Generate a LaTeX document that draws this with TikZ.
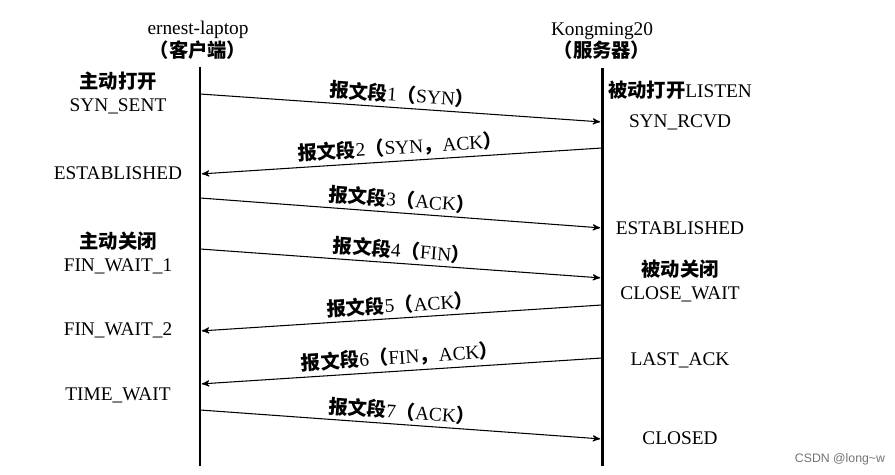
\documentclass[tikz,border=0pt]{standalone}
\usepackage{fontspec}
\setmainfont{Liberation Serif}
\setsansfont{Liberation Sans}
\newfontfamily\cjk{Noto Sans CJK SC}
\usetikzlibrary{arrows}

\newcommand{\zh}[1]{{\cjk\bfseries #1}}
\newcommand{\seg}[2]{\zh{报文段}#1\zh{（}#2\zh{）}}

\begin{document}
\begin{tikzpicture}[x=0.02cm,y=-0.02cm,>=stealth',
		host/.style={font=\fontsize{11}{11.6}\selectfont,align=center,inner sep=0pt},
		state/.style={font=\fontsize{11}{13}\selectfont,align=center,inner sep=0pt},
		seg/.style={font=\fontsize{11}{12}\selectfont,sloped,above=1pt,inner sep=1pt},
		msg/.style={->,line width=0.6pt,shorten >=1pt},
		life/.style={line width=1.7pt}]

	\useasboundingbox (0,0) rectangle (895,475);

	% hosts
	\node[host] (C) at (198,40) {ernest-laptop\\\zh{（客户端）}};
	\node[host] (S) at (602,41) {Kongming20\\\zh{（服务器）}};

	% lifelines
	\coordinate (Ctop) at (200,67);  \coordinate (Cbot) at (200,466);
	\coordinate (Stop) at (602,68);  \coordinate (Sbot) at (602,466);
	\draw[life] (Ctop) -- (Cbot);
	\draw[life] (Stop) -- (Sbot);

	% message ends
	\coordinate (C1) at (200,94);   \coordinate (S1) at (602,122);
	\coordinate (S2) at (602,148);  \coordinate (C2) at (200,174);
	\coordinate (C3) at (200,198);  \coordinate (S3) at (602,228);
	\coordinate (C4) at (200,249);  \coordinate (S4) at (602,278);
	\coordinate (S5) at (602,305);  \coordinate (C5) at (200,331);
	\coordinate (S6) at (602,358);  \coordinate (C6) at (200,384);
	\coordinate (C7) at (200,410);  \coordinate (S7) at (602,439);

	\path[msg]
		(C1) edge node[seg] {\seg{1}{SYN}} (S1)
		(S2) edge node[seg] {\seg{2}{SYN\zh{，}ACK}} (C2)
		(C3) edge node[seg] {\seg{3}{ACK}} (S3)
		(C4) edge node[seg] {\seg{4}{FIN}} (S4)
		(S5) edge node[seg] {\seg{5}{ACK}} (C5)
		(S6) edge node[seg] {\seg{6}{FIN\zh{，}ACK}} (C6)
		(C7) edge node[seg] {\seg{7}{ACK}} (S7);

	% client states
	\node[state] (Copen)  at (118,93)  {\zh{主动打开}\\SYN\_SENT};
	\node[state] (Cest)   at (118,173) {ESTABLISHED};
	\node[state] (Cclose) at (118,253) {\zh{主动关闭}\\FIN\_WAIT\_1};
	\node[state] (Cfw2)   at (118,330) {FIN\_WAIT\_2};
	\node[state] (Ctw)    at (118,395) {TIME\_WAIT};

	% server states
	\node[state] (Slisten) at (680,90)  {\zh{被动打开}LISTEN};
	\node[state] (Srcvd)   at (680,122) {SYN\_RCVD};
	\node[state] (Sest)    at (680,228) {ESTABLISHED};
	\node[state] (Sclose)  at (680,281) {\zh{被动关闭}\\CLOSE\_WAIT};
	\node[state] (Slast)   at (680,360) {LAST\_ACK};
	\node[state] (Sclosed) at (680,438) {CLOSED};

	\node[font=\sffamily\fontsize{7}{8}\selectfont,text=black!55,inner sep=0pt] (mark) at (840,459) {CSDN @long\textasciitilde w};
\end{tikzpicture}
\end{document}
